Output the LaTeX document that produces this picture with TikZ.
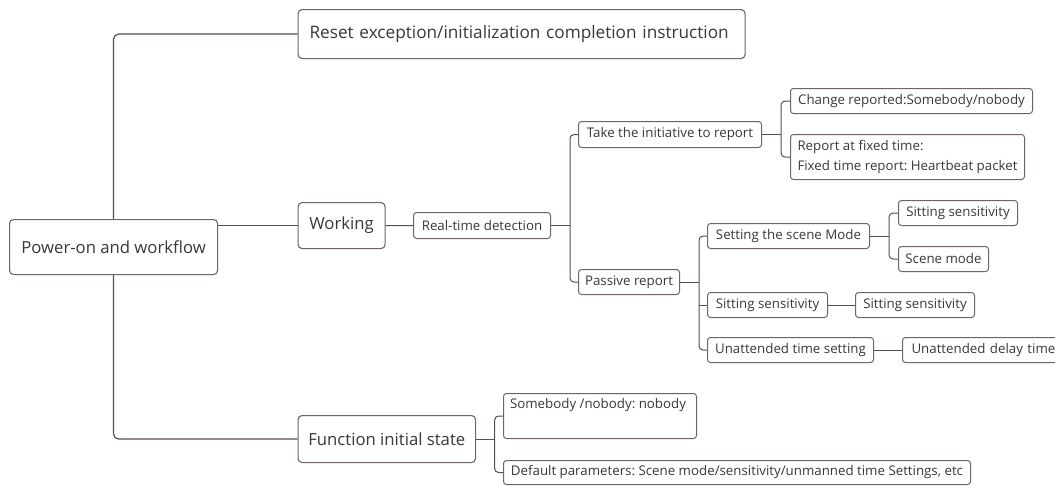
\documentclass[tikz,border=0pt]{standalone}
\usepackage{fontspec}
\setmainfont{Open Sans}
\definecolor{tcol}{HTML}{383838}
\definecolor{bcol}{HTML}{6E6664}
\definecolor{lcol}{HTML}{5A4E4C}
\begin{document}
\frenchspacing
\begin{tikzpicture}[x=1pt,y=-1pt,
  bigbox/.style={draw=bcol, line width=1.1pt, rounded corners=4pt, fill=white, text=tcol,
    anchor=north west, inner xsep=3pt, inner ysep=0pt, align=left,
    font=\fontsize{16.7}{20}\selectfont\frenchspacing},
  smallbox/.style={draw=bcol, line width=1pt, rounded corners=3pt, fill=white, text=tcol,
    anchor=north west, inner xsep=3pt, inner ysep=0pt, align=left,
    font=\fontsize{13.3}{20}\selectfont\frenchspacing},
  conn/.style={draw=lcol, line width=1.2pt, rounded corners=5pt},
  sconn/.style={draw=lcol, line width=1pt, rounded corners=4pt}]
\useasboundingbox (0,0) rectangle (1055,485);
\clip (0,0) rectangle (1055,485);
\fill[white] (0,0) rectangle (1055,485);

% big nodes
\node[bigbox, minimum width=208pt, minimum height=55pt] (root) at (9,219) {Power-on and workflow};
\node[bigbox, inner xsep=11.5pt, text width=424pt, minimum height=49pt, font=\fontsize{17.2}{20}\selectfont\frenchspacing] (reset) at (297.5,9) {Reset exception/initialization completion instruction};
\node[bigbox, minimum width=87pt, minimum height=46pt] (work) at (297.5,202) {Working};
\node[bigbox, minimum width=177.5pt, minimum height=47pt] (func) at (297.5,415) {Function initial state};

% small nodes
\node[smallbox, minimum width=137pt, minimum height=26pt] (rtd) at (413,212) {Real-time detection};
\node[smallbox, minimum width=183pt, minimum height=26pt] (take) at (578,121) {Take the initiative to report};
\node[smallbox, minimum width=101pt, minimum height=25pt] (passive) at (578,269) {Passive report};
\node[smallbox, minimum width=242pt, minimum height=25pt] (chg) at (790,88) {Change reported:Somebody/nobody};
\node[smallbox, minimum width=234pt, minimum height=45pt] (fixed) at (790,134) {Report at fixed time:\\Fixed time report: Heartbeat packet};
\node[smallbox, minimum width=162pt, minimum height=25pt] (scene) at (707,223) {Setting the scene Mode};
\node[smallbox, minimum width=120pt, minimum height=25pt] (sitmid) at (707,292) {Sitting sensitivity};
\node[smallbox, minimum width=166pt, minimum height=25pt] (unatt) at (707,337) {Unattended time setting};
\node[smallbox, minimum width=119pt, minimum height=25pt] (sit1) at (898,200) {Sitting sensitivity};
\node[smallbox, minimum width=90pt, minimum height=25pt] (scmode) at (898,246) {Scene mode};
\node[smallbox, minimum width=119pt, minimum height=25pt] (sit2) at (855,292) {Sitting sensitivity};
\node[smallbox, inner xsep=9pt, text width=150pt, minimum height=25pt] (delay) at (902,337) {Unattended delay time};
\node[smallbox, minimum width=193pt, minimum height=45pt] (some) at (503,393) {Somebody /nobody: nobody\hspace*{4pt}\\\strut};
\node[smallbox, minimum width=467pt, minimum height=24pt] (deflt) at (503,460) {Default parameters: Scene mode/sensitivity/unmanned time Settings, etc};

% junction coordinates
\coordinate (j1) at ([xshift=19pt]rtd.east);
\coordinate (j2) at ([xshift=19pt]take.east);
\coordinate (j3) at ([xshift=19pt]passive.east);
\coordinate (j4) at ([xshift=19pt]scene.east);
\coordinate (j5) at ([xshift=18.5pt]func.east);

% connectors
\draw[conn] (root.north) |- (reset.west);
\draw[conn] (root.south) |- (func.west);
\draw[conn] (root.east |- work.west) -- (work.west);
\draw[sconn] (work.east) -- (rtd.west);
\draw[sconn] (rtd.east) -- (j1);
\draw[sconn] (take.west) -| (j1) |- (passive.west);
\draw[sconn] (take.east) -- (j2);
\draw[sconn] (chg.west) -| (j2) |- (fixed.west);
\draw[sconn] (passive.east) -- (j3);
\draw[sconn] (scene.west) -| (j3) |- (unatt.west);
\draw[sconn] (j3 |- sitmid.west) -- (sitmid.west);
\draw[sconn] (scene.east) -- (j4);
\draw[sconn] (sit1.west) -| (j4) |- (scmode.west);
\draw[sconn] (sitmid.east) -- (sit2.west);
\draw[sconn] (unatt.east) -- (delay.west);
\draw[sconn] (func.east) -- (j5);
\draw[sconn] (some.west) -| (j5) |- (deflt.west);
\end{tikzpicture}
\end{document}
